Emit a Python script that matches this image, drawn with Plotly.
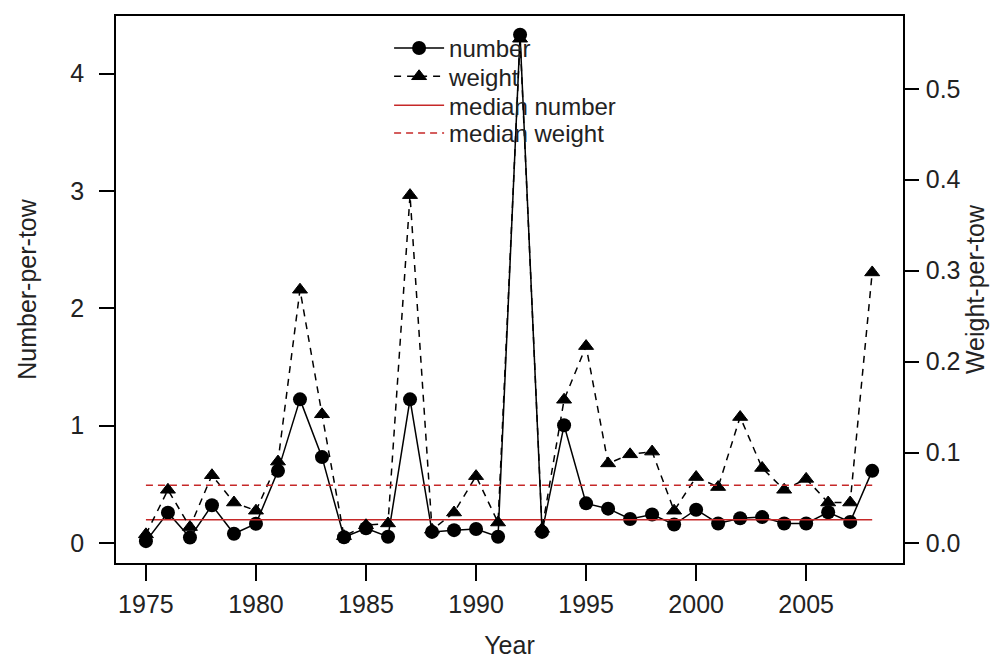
import plotly.graph_objects as go

# ---- data ----
years = list(range(1975, 2009))
number_per_tow = [0.016, 0.259, 0.047, 0.322, 0.079, 0.164, 0.615, 1.224, 0.732, 0.050,
                  0.126, 0.054, 1.224, 0.095, 0.110, 0.120, 0.054, 4.330, 0.095, 1.003,
                  0.338, 0.293, 0.205, 0.243, 0.158, 0.284, 0.167, 0.211, 0.221, 0.167,
                  0.167, 0.262, 0.180, 0.615]
weight_per_tow = [0.010, 0.059, 0.018, 0.075, 0.045, 0.036, 0.090, 0.279, 0.142, 0.008,
                  0.020, 0.022, 0.383, 0.015, 0.034, 0.074, 0.023, 0.555, 0.016, 0.158,
                  0.217, 0.088, 0.098, 0.101, 0.036, 0.073, 0.062, 0.139, 0.083, 0.059,
                  0.071, 0.045, 0.045, 0.298]
median_number = 0.199
median_weight = 0.064

x_ticks = [1975, 1980, 1985, 1990, 1995, 2000, 2005]
y_ticks = [0, 1, 2, 3, 4]
y2_ticks = [0.0, 0.1, 0.2, 0.3, 0.4, 0.5]
legend_labels = ["number", "weight", "median number", "median weight"]

FONT = "Liberation Sans, Arial, sans-serif"
TXT = "#222222"
RED = "#C62828"

fig = go.Figure()
fig.add_trace(go.Scatter(
    x=years, y=number_per_tow, name=legend_labels[0], mode="lines+markers",
    line=dict(color="black", width=1.5),
    marker=dict(symbol="circle", size=14, color="black"),
    yaxis="y", legend="legend"))
fig.add_trace(go.Scatter(
    x=years, y=weight_per_tow, name=legend_labels[1], mode="lines+markers",
    line=dict(color="black", width=1.5, dash="7px,6px"),
    marker=dict(symbol="triangle-up", size=13, color="black",
                line=dict(color="black", width=1)),
    yaxis="y2", legend="legend2"))
fig.add_trace(go.Scatter(
    x=years, y=[median_number] * len(years), name=legend_labels[2], mode="lines",
    line=dict(color=RED, width=1.5), yaxis="y", legend="legend3"))
fig.add_trace(go.Scatter(
    x=years, y=[median_weight] * len(years), name=legend_labels[3], mode="lines",
    line=dict(color=RED, width=1.5, dash="7px,5px"), yaxis="y2", legend="legend4"))

axis_common = dict(showgrid=False, zeroline=False, showline=True, linecolor="black",
                   linewidth=1.5, ticks="outside", tickcolor="black", tickwidth=1.5,
                   automargin=False, tickfont=dict(family=FONT, size=25, color=TXT))

legend_x = 0.347
legend_rows_y = [0.9819, 0.9302, 0.8771, 0.8265]


def legend_box(yv):
    return dict(x=legend_x, y=yv, xanchor="left", yanchor="top",
                bgcolor="rgba(0,0,0,0)", borderwidth=0,
                font=dict(family=FONT, size=24, color=TXT), itemwidth=50)


fig.update_layout(
    width=998, height=660,
    margin=dict(l=108, r=103, t=8, b=105),
    paper_bgcolor="white", plot_bgcolor="white",
    font=dict(family=FONT, size=25, color=TXT),
    showlegend=True,
    legend=legend_box(legend_rows_y[0]),
    legend2=legend_box(legend_rows_y[1]),
    legend3=legend_box(legend_rows_y[2]),
    legend4=legend_box(legend_rows_y[3]),
    xaxis=dict(range=[1973.64, 2009.4], tickvals=x_ticks, ticklen=16,
               mirror=True, ticklabelstandoff=2,
               title=dict(text="Year", standoff=20, font=dict(family=FONT, size=25, color=TXT)),
               **axis_common),
    yaxis=dict(range=[-0.17, 4.49], tickvals=y_ticks, ticklen=15,
               ticklabelstandoff=10,
               title=dict(text="Number-per-tow", standoff=27, font=dict(family=FONT, size=25, color=TXT)),
               **axis_common),
    yaxis2=dict(range=[-0.0215, 0.58], tickvals=y2_ticks, tickformat=".1f", ticklen=14,
                overlaying="y", side="right", ticklabelstandoff=2,
                title=dict(text="Weight-per-tow", standoff=7, font=dict(family=FONT, size=25, color=TXT)),
                **axis_common),
)

fig.write_html("out.html")
